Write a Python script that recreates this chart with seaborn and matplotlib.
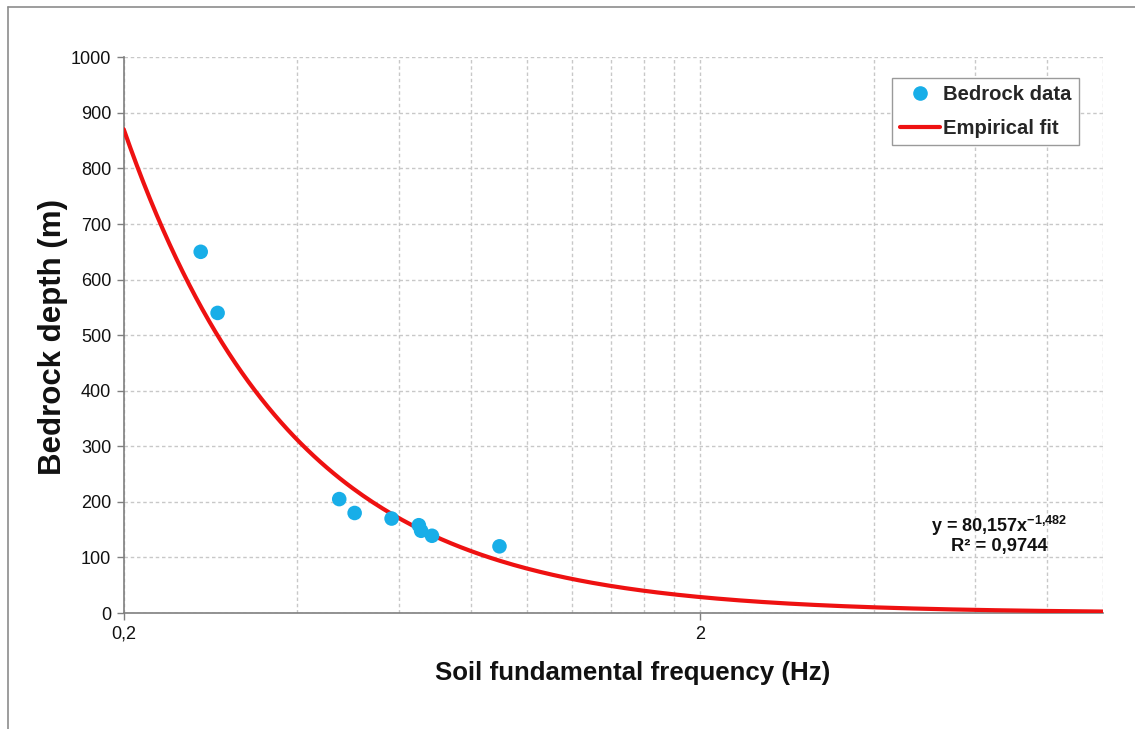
import numpy as np
import pandas as pd
import matplotlib
matplotlib.use("Agg")
import matplotlib.pyplot as plt
import matplotlib.ticker as mticker
from matplotlib.lines import Line2D
import seaborn as sns

# Measured bedrock depths against soil fundamental frequency
freq_hz = [0.272, 0.291, 0.473, 0.503, 0.583, 0.650, 0.656, 0.685, 0.897]
depth_m = [650, 540, 205, 180, 170, 158, 148, 139, 120]

# Power-law fit  y = a * x^b
fit_a = 80.157
fit_b = -1.482
fit_r2 = 0.9744

x_major = [0.2, 2]
x_major_labels = ["0,2", "2"]
x_minor = [0.4, 0.6, 0.8, 1.0, 1.2, 1.4, 1.6, 1.8, 4, 6, 8, 10]
y_ticks = list(range(0, 1001, 100))

sns.set_theme(style="white")
plt.rcParams["font.family"] = ["Liberation Sans", "DejaVu Sans"]
plt.rcParams["mathtext.fontset"] = "custom"
plt.rcParams["mathtext.rm"] = "Liberation Sans"
plt.rcParams["mathtext.bf"] = "Liberation Sans:bold"

fig = plt.figure(figsize=(11.35, 7.29), dpi=100)
ax = fig.add_axes([0.109, 0.1591, 0.863, 0.7623])

pts = pd.DataFrame({"freq": freq_hz, "depth": depth_m})
x_fit = np.logspace(np.log10(0.2), np.log10(10), 300)
curve = pd.DataFrame({"freq": x_fit, "depth": fit_a * x_fit ** fit_b})

sns.lineplot(data=curve, x="freq", y="depth", ax=ax, color="#EE1111",
             linewidth=3.0, zorder=3)
sns.scatterplot(data=pts, x="freq", y="depth", ax=ax, color="#18AEE8",
                s=110, edgecolor="none", zorder=4)

ax.set_xscale("log")
ax.set_xlim(0.2, 10)
ax.set_ylim(0, 1000)

ax.xaxis.set_major_locator(mticker.FixedLocator(x_major))
ax.xaxis.set_major_formatter(mticker.FixedFormatter(x_major_labels))
ax.xaxis.set_minor_locator(mticker.FixedLocator(x_minor))
ax.xaxis.set_minor_formatter(mticker.NullFormatter())
ax.set_yticks(y_ticks)
ax.set_yticklabels([str(v) for v in y_ticks])

grid_kw = dict(color="#C8C8C8", linestyle=(0, (2.5, 2)), linewidth=1.0)
ax.grid(True, which="major", axis="y", **grid_kw)
ax.grid(True, which="both", axis="x", **grid_kw)
ax.set_axisbelow(True)

for side in ("top", "right"):
    ax.spines[side].set_visible(False)
for side in ("left", "bottom"):
    ax.spines[side].set_color("#7F7F7F")
    ax.spines[side].set_linewidth(1.2)

ax.tick_params(axis="both", which="major", direction="out", length=5,
               width=1, color="#7F7F7F", labelsize=13, labelcolor="#111111",
               left=True, bottom=True, pad=4)
ax.tick_params(axis="x", which="minor", length=0)

ax.set_xlabel("Soil fundamental frequency (Hz)", fontsize=18.6,
              fontweight="bold", color="#111111", va="center")
ax.xaxis.set_label_coords(0.520, -0.108)
ax.set_ylabel("Bedrock depth (m)", fontsize=22.5, fontweight="bold",
              color="#111111", va="center")
ax.yaxis.set_label_coords(-0.0725, 0.497)

handles = [
    Line2D([], [], marker="o", linestyle="none", color="#18AEE8",
           markersize=9.5, label="Bedrock data"),
    Line2D([], [], color="#EE1111", linewidth=3.0, label="Empirical fit"),
]
leg = ax.legend(handles=handles, loc="upper right",
                bbox_to_anchor=(0.975, 0.963), borderaxespad=0,
                frameon=True, fancybox=False,
                edgecolor="#9A9A9A", framealpha=1, borderpad=0.35,
                handlelength=2.0, handletextpad=0.15, labelspacing=0.75,
                prop={"size": 14.6, "weight": "bold"})
leg.get_frame().set_linewidth(1.0)

eq_x = (999 - 123.7) / 979.6
ax.text(eq_x, (613 - 526) / 555.7, "y = 80,157x$^{\\mathbf{-1{,}482}}$",
        transform=ax.transAxes, ha="center", va="center", fontsize=13,
        fontweight="bold", color="#111111")
ax.text(eq_x, (613 - 546) / 555.7, f"R² = {str(fit_r2).replace('.', ',')}",
        transform=ax.transAxes, ha="center", va="center", fontsize=13.2,
        fontweight="bold", color="#111111")

# Chart-area border along the top and left edges of the figure
fig.add_artist(Line2D([8 / 1135, 8 / 1135], [0, 1 - 7 / 729],
                      transform=fig.transFigure, color="#8C8C8C", linewidth=1.2))
fig.add_artist(Line2D([8 / 1135, 1], [1 - 7 / 729, 1 - 7 / 729],
                      transform=fig.transFigure, color="#8C8C8C", linewidth=1.2))

fig.savefig("out.png", dpi=100)
